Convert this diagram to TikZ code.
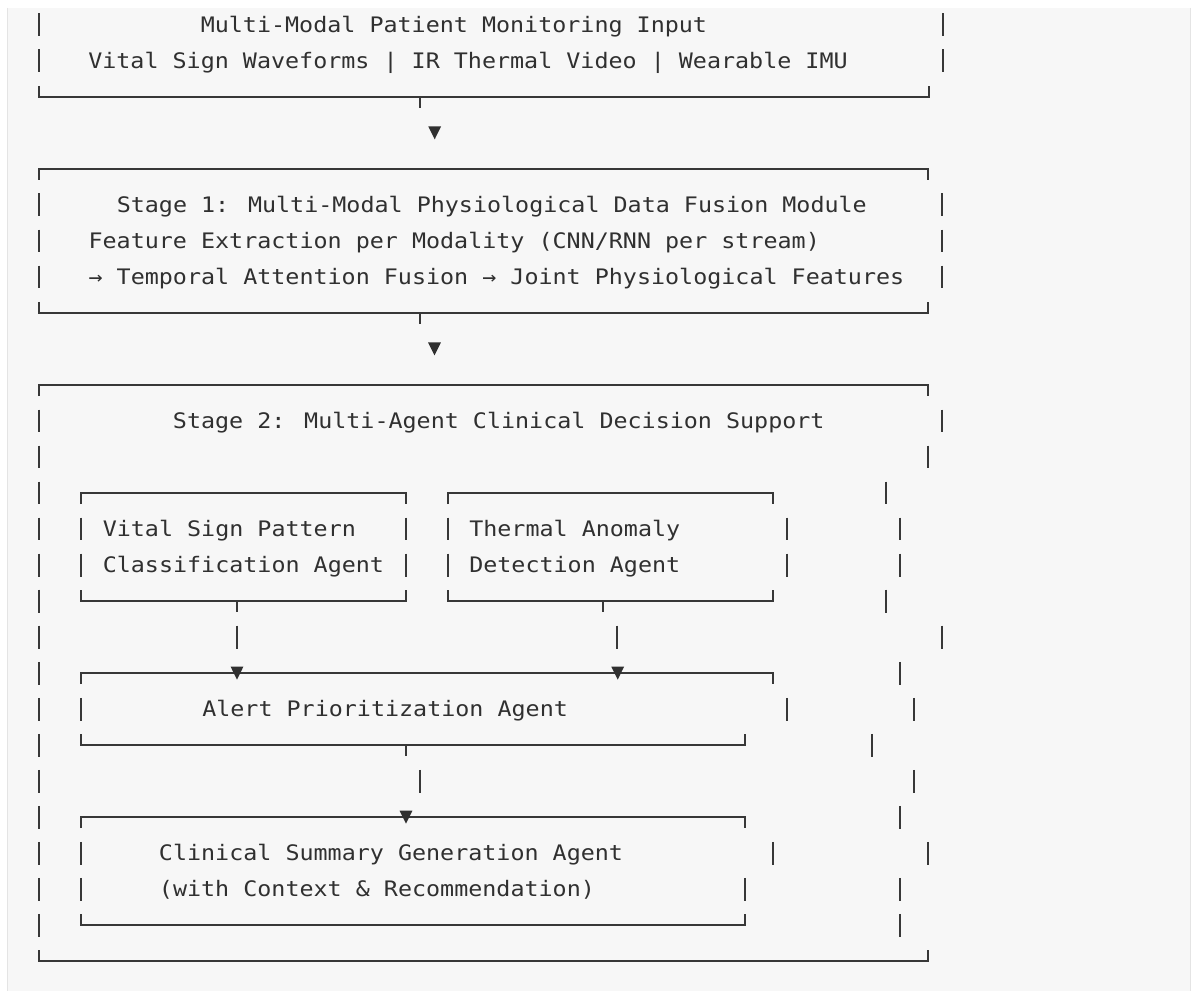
\documentclass[tikz,border=0pt]{standalone}
\usepackage{fontspec}
\newfontfamily\codefont[FakeStretch=1.095]{DejaVu Sans Mono}
\definecolor{ink}{HTML}{303030}
\definecolor{rule}{HTML}{383838}
\definecolor{codebg}{HTML}{F7F7F7}
\definecolor{codeedge}{HTML}{E4E4E4}

% vertical centre and baseline of text row #1 (pixel units, y grows downwards)
\newcommand{\rowc}[1]{(24.8+36.02*(#1))}
\newcommand{\rowb}[1]{(32.3+36.02*(#1))}
% one "│" glyph: x, row
\newcommand{\asciibar}[2]{\draw[barline] (#1,{\rowc{#2}-11.4}) -- (#1,{\rowc{#2}+11.4});}
% "┌───┐": x left, x right, row
\newcommand{\boxtop}[3]{\draw[boxline] (#1,{\rowc{#3}+11}) -- (#1,{\rowc{#3}}) -- (#2,{\rowc{#3}}) -- (#2,{\rowc{#3}+11});}
% "└───┘": x left, x right, row
\newcommand{\boxbot}[3]{\draw[boxline] (#1,{\rowc{#3}-11}) -- (#1,{\rowc{#3}}) -- (#2,{\rowc{#3}}) -- (#2,{\rowc{#3}-11});}
% "┬" stub below a bottom edge: x, row
\newcommand{\teedown}[2]{\draw[boxline] (#1,{\rowc{#2}}) -- (#1,{\rowc{#2}+11});}
% "▼": name, x, row
\newcommand{\downtri}[3]{\coordinate (#1) at (#2,{\rowc{#3}});
  \fill[ink] ([shift={(-6.4,-6.5)}]#1) -- ([shift={(6.4,-6.5)}]#1) -- ([shift={(0,6.5)}]#1) -- cycle;}

\begin{document}
\begin{tikzpicture}[x=0.75pt, y=-0.75pt,
  boxline/.style={draw=rule, line width=1.45pt, line cap=butt, line join=miter},
  barline/.style={draw=rule, line width=1.45pt, line cap=butt},
  txt/.style={font=\codefont\fontsize{16}{16}\selectfont, text=ink, inner sep=0pt, anchor=base west}]

% page and code panel
\useasboundingbox (0,0) rectangle (1192,991);
\fill[white] (0,0) rectangle (1192,991);
\fill[codebg] (7,8) rectangle (1191,991);
\draw[codeedge, line width=1.2pt] (7.5,8) -- (7.5,991);
\draw[codeedge, line width=0.8pt] (1190.6,8) -- (1190.6,991);

% ---------------- input box ----------------
\node[txt] (inTitle) at (200.5,{\rowb{0}}) {Multi-Modal Patient Monitoring Input};
\node[txt] (inStreams) at (88,{\rowb{1}}) {Vital Sign Waveforms | IR Thermal Video | Wearable IMU};
\foreach \r in {0,1} {\asciibar{39}{\r}\asciibar{942.6}{\r}}
\boxbot{39}{928.6}{2}
\teedown{420}{2}
\downtri{arrA}{434.7}{3}

% ---------------- stage 1 ----------------
\boxtop{39}{928.4}{4}
\node[txt] (sOneTitle) at (116.5,{\rowb{5}}) {Stage 1: Multi-Modal Physiological Data Fusion Module};
\node[txt] (sOneA) at (88.3,{\rowb{6}}) {Feature Extraction per Modality (CNN/RNN per stream)};
\node[txt] (sOneB) at (88.3,{\rowb{7}}) {→ Temporal Attention Fusion → Joint Physiological Features};
\foreach \r in {5,6,7} {\asciibar{39}{\r}\asciibar{942.4}{\r}}
\boxbot{39}{928.4}{8}
\teedown{420}{8}
\downtri{arrB}{434.5}{9}

% ---------------- stage 2 (outer frame) ----------------
\boxtop{39}{928.3}{10}
\node[txt] (sTwoTitle) at (172.7,{\rowb{11}}) {Stage 2: Multi-Agent Clinical Decision Support};
\foreach \r in {11,...,25} {\asciibar{39}{\r}}
\foreach \x/\r in {942.3/11, 928.3/12, 886/13, 900/14, 900/15, 886/16, 942.3/17,
                   900/18, 914/19, 871.7/20, 914/21, 900/22, 928.3/23, 900/24, 900/25}
  {\asciibar{\x}{\r}}
\boxbot{39}{928.3}{26}

% vital sign pattern agent
\boxtop{81}{406}{13}
\node[txt] (vsA) at (102.5,{\rowb{14}}) {Vital Sign Pattern};
\node[txt] (vsB) at (102.5,{\rowb{15}}) {Classification Agent};
\foreach \r in {14,15} {\asciibar{81}{\r}\asciibar{406}{\r}}
\boxbot{81}{406}{16}
\teedown{236.7}{16}
\asciibar{236.7}{17}

% thermal anomaly agent
\boxtop{447.7}{773.3}{13}
\node[txt] (thA) at (469,{\rowb{14}}) {Thermal Anomaly};
\node[txt] (thB) at (469,{\rowb{15}}) {Detection Agent};
\foreach \r in {14,15} {\asciibar{447.7}{\r}\asciibar{786.7}{\r}}
\boxbot{447.7}{773.3}{16}
\teedown{603.3}{16}
\asciibar{617.3}{17}

% alert prioritization agent
\boxtop{81}{773.3}{18}
\downtri{arrVS}{237}{18}
\downtri{arrTH}{617.7}{18}
\node[txt] (alert) at (202,{\rowb{19}}) {Alert Prioritization Agent};
\asciibar{81}{19}\asciibar{786.7}{19}
\boxbot{81}{745}{20}
\teedown{406}{20}
\asciibar{420}{21}

% clinical summary generation agent
\boxtop{81}{745}{22}
\downtri{arrAL}{406}{22}
\node[txt] (sumA) at (158.7,{\rowb{23}}) {Clinical Summary Generation Agent};
\node[txt] (sumB) at (158.7,{\rowb{24}}) {(with Context \& Recommendation)};
\asciibar{81}{23}\asciibar{772.7}{23}
\asciibar{81}{24}\asciibar{745}{24}
\boxbot{81}{745}{25}

\end{tikzpicture}
\end{document}
